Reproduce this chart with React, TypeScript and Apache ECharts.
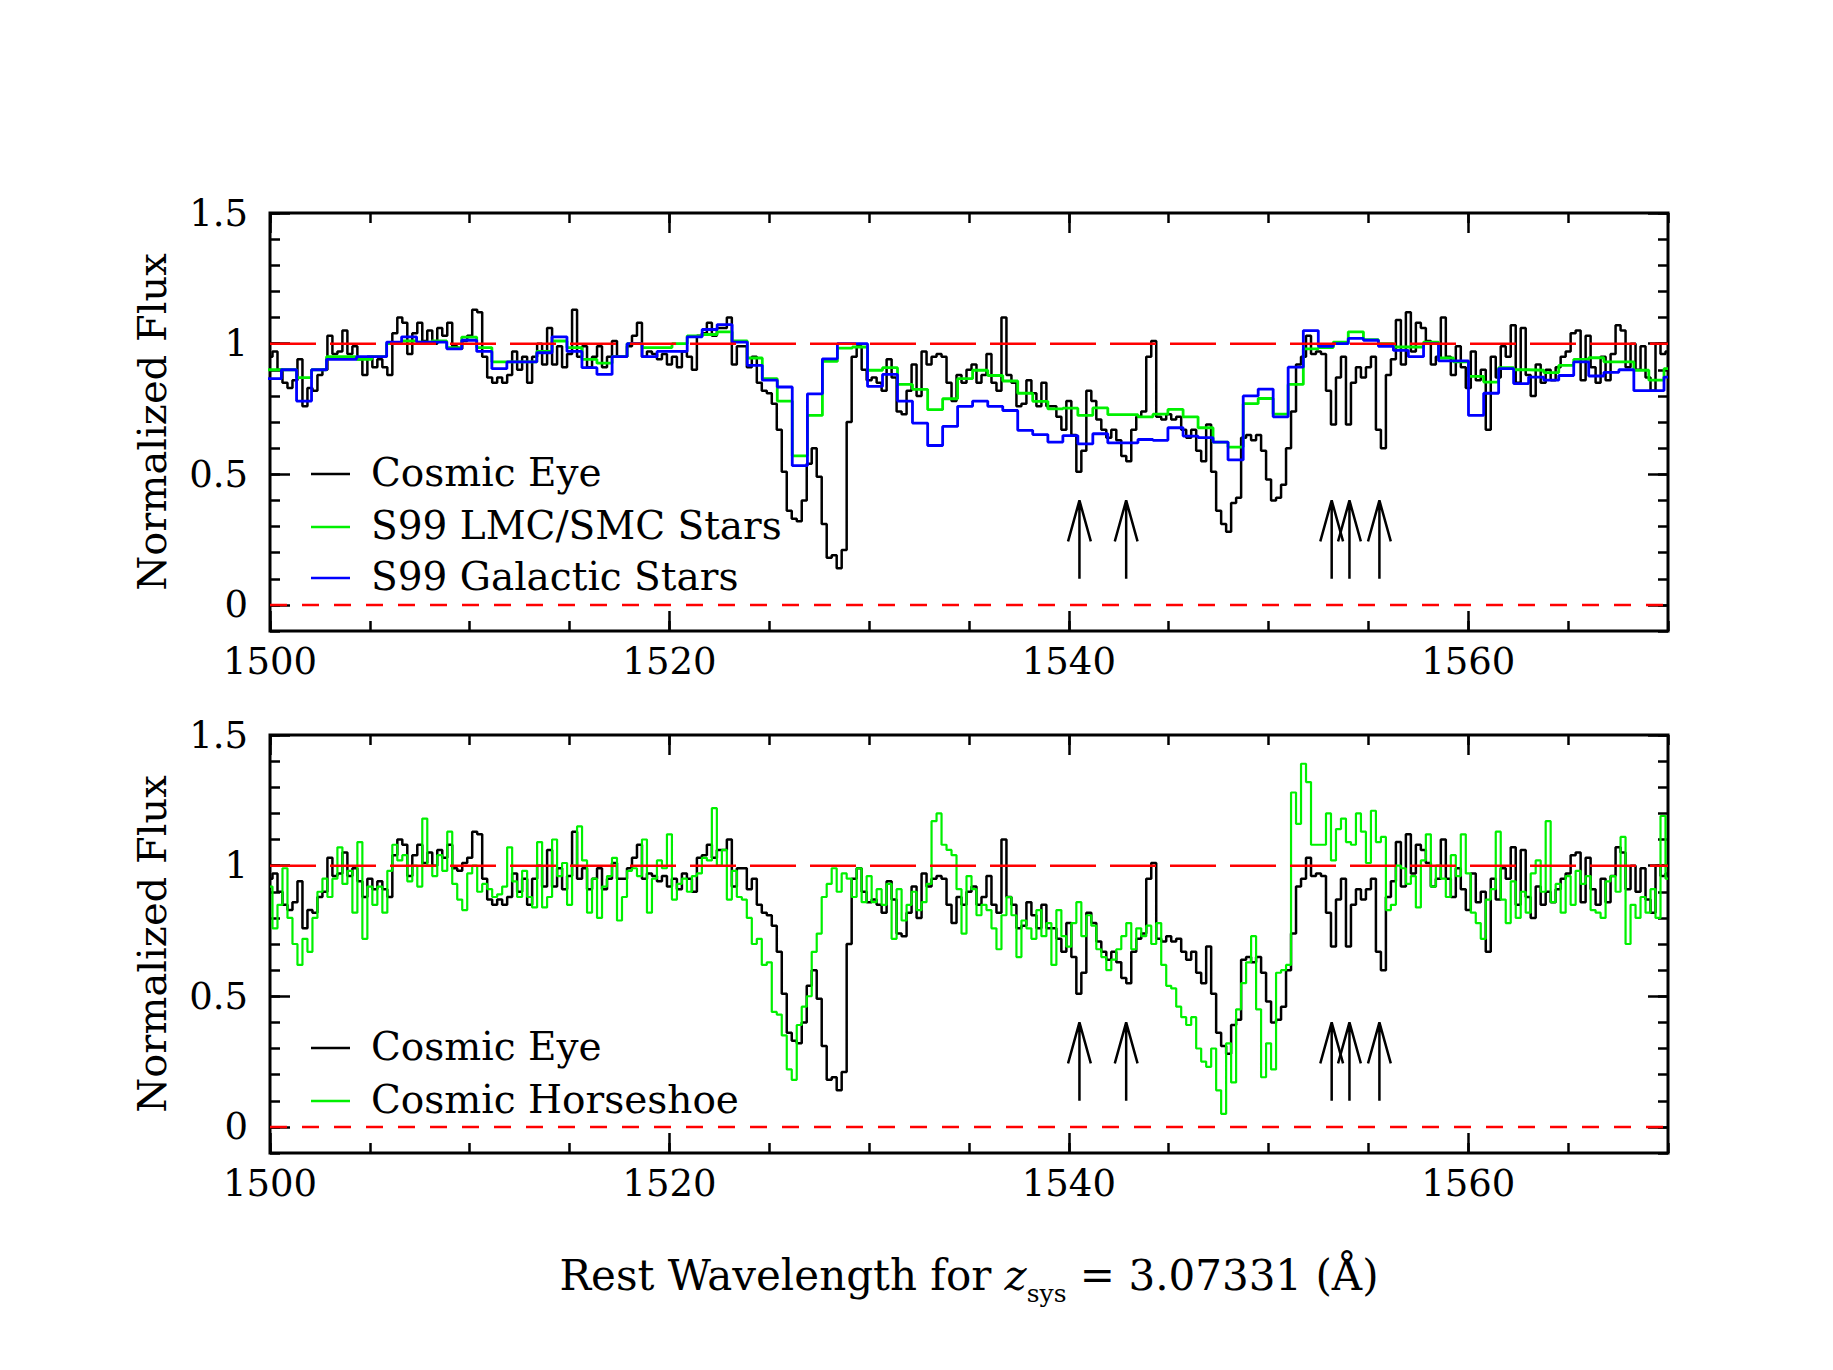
import React, { useEffect, useRef } from "react";
import * as echarts from "echarts";

// ---------- DATA ----------
const WL_START = 1500;
const WL_STEP = 0.25;

// Cosmic Eye normalized flux, sampled every 0.25 Å from 1500 to 1570
const cosmicEyeFlux = [
  0.95, 0.97, 0.90, 0.85, // 1500
  0.83, 0.86, 0.94, 0.76, // 1501
  0.83, 0.82, 0.88, 0.90, // 1502
  1.03, 0.96, 0.97, 1.05, // 1503
  0.96, 0.99, 0.94, 0.88, // 1504
  0.95, 0.91, 0.94, 0.91, // 1505
  0.88, 1.04, 1.10, 1.08, // 1506
  0.96, 1.04, 1.08, 1.01, // 1507
  1.05, 1.00, 1.06, 1.03, // 1508
  1.08, 0.99, 0.98, 1.01, // 1509
  1.03, 1.13, 1.12, 0.95, // 1510
  0.87, 0.85, 0.87, 0.85, // 1511
  0.88, 0.97, 0.90, 0.95, // 1512
  0.85, 0.95, 1.00, 0.92, // 1513
  1.06, 0.92, 0.99, 0.91, // 1514
  0.96, 1.13, 0.95, 0.99, // 1515
  0.91, 0.95, 0.99, 0.91, // 1516
  0.95, 1.01, 0.95, 0.95, // 1517
  0.99, 1.03, 1.08, 0.95, // 1518
  0.97, 0.96, 0.94, 0.96, // 1519
  0.92, 0.95, 0.91, 0.97, // 1520
  0.95, 0.90, 1.03, 1.04, // 1521
  1.08, 1.03, 1.06, 1.06, // 1522
  1.10, 0.92, 0.99, 0.99, // 1523
  0.91, 0.95, 0.85, 0.82, // 1524
  0.81, 0.77, 0.67, 0.51, // 1525
  0.36, 0.33, 0.32, 0.40, // 1526
  0.54, 0.60, 0.49, 0.31, // 1527
  0.18, 0.19, 0.14, 0.21, // 1528
  0.70, 0.95, 0.99, 0.90, // 1529
  0.86, 0.87, 0.85, 0.82, // 1530
  0.94, 0.87, 0.74, 0.73, // 1531
  0.82, 0.92, 0.80, 0.97, // 1532
  0.92, 0.95, 0.96, 0.95, // 1533
  0.85, 0.78, 0.88, 0.85, // 1534
  0.90, 0.92, 0.85, 0.88, // 1535
  0.96, 0.85, 0.82, 1.10, // 1536
  0.88, 0.85, 0.76, 0.77, // 1537
  0.86, 0.81, 0.76, 0.85, // 1538
  0.76, 0.76, 0.72, 0.67, // 1539
  0.78, 0.65, 0.51, 0.59, // 1540
  0.82, 0.78, 0.71, 0.67, // 1541
  0.64, 0.67, 0.63, 0.57, // 1542
  0.55, 0.67, 0.72, 0.74, // 1543
  0.95, 1.01, 0.72, 0.71, // 1544
  0.73, 0.71, 0.72, 0.67, // 1545
  0.64, 0.67, 0.59, 0.55, // 1546
  0.69, 0.51, 0.36, 0.31, // 1547
  0.28, 0.39, 0.41, 0.64, // 1548
  0.65, 0.63, 0.65, 0.59, // 1549
  0.48, 0.40, 0.41, 0.46, // 1550
  0.60, 0.74, 0.92, 0.95, // 1551
  1.03, 0.96, 0.97, 0.96, // 1552
  0.82, 0.69, 0.87, 0.95, // 1553
  0.69, 0.85, 0.91, 0.87, // 1554
  0.91, 0.95, 0.67, 0.60, // 1555
  0.88, 0.94, 1.09, 0.92, // 1556
  1.12, 0.97, 1.08, 1.06, // 1557
  1.01, 0.92, 0.95, 1.10, // 1558
  0.95, 0.88, 0.99, 0.91, // 1559
  0.83, 0.97, 0.86, 0.90, // 1560
  0.67, 0.95, 0.87, 0.99, // 1561
  0.95, 1.07, 0.85, 1.06, // 1562
  0.88, 0.80, 0.92, 0.85, // 1563
  0.90, 0.86, 0.91, 0.95, // 1564
  0.97, 1.04, 1.05, 0.86, // 1565
  1.03, 0.91, 0.85, 0.95, // 1566
  0.86, 0.96, 1.07, 1.05, // 1567
  0.91, 1.00, 0.90, 0.99, // 1568
  0.87, 0.82, 1.00, 0.96, // 1569
  0.97, // 1570
];

// Cosmic Horseshoe normalized flux, same sampling
const horseshoeFlux = [
  0.92, 0.76, 0.85, 0.99, // 1500
  0.80, 0.70, 0.62, 0.72, // 1501
  0.67, 0.80, 0.90, 0.95, // 1502
  0.88, 0.95, 1.07, 0.93, // 1503
  0.98, 0.82, 1.09, 0.72, // 1504
  0.92, 0.85, 0.92, 0.82, // 1505
  0.98, 1.08, 1.02, 1.04, // 1506
  0.94, 1.00, 0.92, 1.18, // 1507
  1.00, 0.96, 1.04, 0.98, // 1508
  1.13, 0.93, 0.87, 0.83, // 1509
  0.97, 1.00, 0.90, 0.93, // 1510
  0.91, 0.88, 0.89, 0.92, // 1511
  1.07, 0.94, 0.88, 0.98, // 1512
  0.88, 0.84, 1.09, 0.84, // 1513
  0.88, 1.10, 0.96, 1.01, // 1514
  0.85, 1.00, 1.15, 1.02, // 1515
  0.82, 0.95, 0.80, 0.92, // 1516
  0.96, 1.03, 0.79, 0.88, // 1517
  0.98, 0.99, 0.96, 1.10, // 1518
  0.82, 0.95, 1.02, 0.99, // 1519
  1.12, 0.87, 0.93, 0.95, // 1520
  0.90, 0.96, 0.97, 1.03, // 1521
  1.02, 1.22, 1.00, 1.06, // 1522
  0.87, 0.98, 0.88, 0.87, // 1523
  0.80, 0.70, 0.72, 0.62, // 1524
  0.63, 0.44, 0.43, 0.35, // 1525
  0.22, 0.18, 0.39, 0.46, // 1526
  0.50, 0.67, 0.74, 0.88, // 1527
  0.93, 0.99, 0.90, 0.97, // 1528
  0.95, 0.88, 0.99, 0.86, // 1529
  0.96, 0.86, 0.91, 0.85, // 1530
  0.93, 0.72, 0.91, 0.79, // 1531
  0.85, 0.90, 0.83, 0.86, // 1532
  0.93, 1.17, 1.20, 1.08, // 1533
  1.06, 1.04, 0.91, 0.74, // 1534
  0.96, 0.91, 0.81, 0.85, // 1535
  0.83, 0.76, 0.68, 0.81, // 1536
  0.88, 0.81, 0.65, 0.79, // 1537
  0.76, 0.72, 0.83, 0.73, // 1538
  0.78, 0.62, 0.83, 0.73, // 1539
  0.69, 0.78, 0.86, 0.73, // 1540
  0.81, 0.77, 0.68, 0.65, // 1541
  0.60, 0.64, 0.68, 0.73, // 1542
  0.78, 0.68, 0.76, 0.73, // 1543
  0.77, 0.70, 0.78, 0.62, // 1544
  0.54, 0.53, 0.46, 0.42, // 1545
  0.39, 0.42, 0.30, 0.25, // 1546
  0.23, 0.30, 0.14, 0.05, // 1547
  0.32, 0.17, 0.45, 0.55, // 1548
  0.63, 0.73, 0.45, 0.19, // 1549
  0.32, 0.22, 0.59, 0.60, // 1550
  0.62, 1.28, 1.16, 1.39, // 1551
  1.32, 1.08, 1.08, 1.08, // 1552
  1.20, 1.02, 1.14, 1.18, // 1553
  1.09, 1.08, 1.20, 1.13, // 1554
  1.01, 1.21, 1.09, 1.11, // 1555
  0.83, 0.85, 1.00, 0.99, // 1556
  0.93, 0.96, 0.84, 1.02, // 1557
  1.12, 0.92, 1.00, 0.95, // 1558
  0.88, 1.04, 0.96, 1.12, // 1559
  0.97, 0.82, 0.78, 0.72, // 1560
  0.87, 0.91, 1.13, 0.87, // 1561
  0.78, 0.94, 0.80, 0.90, // 1562
  0.82, 0.97, 1.02, 0.90, // 1563
  1.17, 0.86, 0.93, 0.82, // 1564
  0.96, 0.85, 0.98, 0.93, // 1565
  0.96, 0.83, 0.82, 0.80, // 1566
  0.94, 0.96, 0.90, 1.11, // 1567
  0.70, 0.85, 0.80, 0.88, // 1568
  0.82, 0.91, 0.80, 1.19, // 1569
  0.95, // 1570
];

// Starburst99 model bins (left edges, Å)
const modelBinEdges = [
  1499.82, 1500.57, 1501.33, 1502.08, 1502.83, 1503.58, 1504.33, 1505.09, 1505.84, 1506.59,
  1507.34, 1508.10, 1508.85, 1509.60, 1510.35, 1511.11, 1511.86, 1512.61, 1513.36, 1514.12,
  1514.87, 1515.62, 1516.37, 1517.13, 1517.88, 1518.63, 1519.38, 1520.13, 1520.89, 1521.64,
  1522.39, 1523.14, 1523.90, 1524.65, 1525.40, 1526.15, 1526.91, 1527.66, 1528.41, 1529.16,
  1529.92, 1530.67, 1531.42, 1532.17, 1532.93, 1533.68, 1534.43, 1535.18, 1535.94, 1536.69,
  1537.44, 1538.19, 1538.95, 1539.70, 1540.45, 1541.20, 1541.95, 1542.71, 1543.46, 1544.21,
  1544.96, 1545.72, 1546.47, 1547.22, 1547.97, 1548.73, 1549.48, 1550.23, 1550.98, 1551.74,
  1552.49, 1553.24, 1553.99, 1554.75, 1555.50, 1556.25, 1557.00, 1557.76, 1558.51, 1559.26,
  1560.01, 1560.77, 1561.52, 1562.27, 1563.02, 1563.78, 1564.53, 1565.28, 1566.03, 1566.79,
  1567.54, 1568.29, 1569.04, 1569.80,
];

const s99LmcSmcFlux = [
  0.90, 0.90, 0.87, 0.90, 0.95, 0.95, 0.94, 0.95, 1.0, 1.01,
  1.006, 1.01, 0.985, 1.025, 0.985, 0.93, 0.93, 0.93, 0.97, 1.01,
  0.985, 0.94, 0.925, 0.95, 1.0, 0.985, 0.985, 1.0, 1.03, 1.035,
  1.045, 1.01, 0.945, 0.866, 0.78, 0.57, 0.725, 0.932, 0.983, 0.987,
  0.898, 0.908, 0.844, 0.825, 0.747, 0.789, 0.866, 0.898, 0.878, 0.857,
  0.81, 0.779, 0.75, 0.753, 0.725, 0.754, 0.728, 0.728, 0.72, 0.73,
  0.748, 0.72, 0.678, 0.623, 0.604, 0.77, 0.79, 0.73, 0.844, 0.98,
  0.985, 1.006, 1.045, 1.015, 1.0, 0.987, 0.987, 1.006, 0.945, 0.93,
  0.875, 0.853, 0.908, 0.9, 0.898, 0.889, 0.917, 0.94, 0.946, 0.93,
  0.93, 0.898, 0.86, 0.904,
];

const s99GalacticFlux = [
  0.866, 0.90, 0.78, 0.90, 0.94, 0.94, 0.95, 0.95, 1.006, 1.026,
  1.006, 1.006, 0.98, 1.013, 0.97, 0.904, 0.93, 0.93, 0.965, 1.026,
  0.97, 0.908, 0.882, 0.95, 1.0, 0.95, 0.97, 0.97, 1.026, 1.054,
  1.073, 1.006, 0.917, 0.86, 0.834, 0.533, 0.808, 0.942, 1.0, 1.0,
  0.836, 0.882, 0.78, 0.696, 0.61, 0.683, 0.76, 0.78, 0.76, 0.744,
  0.668, 0.652, 0.623, 0.648, 0.616, 0.655, 0.62, 0.62, 0.633, 0.63,
  0.678, 0.646, 0.64, 0.623, 0.555, 0.80, 0.826, 0.72, 0.91, 1.05,
  0.99, 1.0, 1.02, 1.013, 0.99, 0.974, 0.95, 1.0, 0.934, 0.934,
  0.725, 0.81, 0.904, 0.847, 0.872, 0.86, 0.878, 0.93, 0.876, 0.89,
  0.90, 0.82, 0.82, 0.872,
];

// Line markers (arrows)
const arrowWavelengths = [1540.53, 1542.87, 1553.16, 1554.05, 1555.55];
const arrowBase = 0.10;
const arrowTip = 0.40;
const arrowWingLevel = 0.243;
const arrowHalfWidth = 0.57;

const xRange = [1500, 1570];
const yRange = [-0.1, 1.5];
const xMajorTicks = [1500, 1520, 1540, 1560];
const yMajorTicks = [0, 0.5, 1, 1.5];

// ---------- STYLE ----------
const FONT = "'DejaVu Serif', serif";
const BLACK = "#000000";
const GREEN = "#00f000";
const BLUE = "#0000ff";
const RED = "#ff0000";

const GRIDS = [
  { left: 270, top: 213, width: 1398, height: 418 },
  { left: 270, top: 735, width: 1398, height: 418 },
];

const tickLine = { color: BLACK, width: 2.5 };
const noAxisLine = { show: false, onZero: false };

function makeXAxes(gi: number) {
  const base = {
    type: "value",
    gridIndex: gi,
    min: xRange[0],
    max: xRange[1],
    axisLine: noAxisLine,
    splitLine: { show: false },
  };
  return [
    {
      ...base,
      position: "bottom",
      axisTick: { show: true, inside: true, length: 20, customValues: xMajorTicks, lineStyle: tickLine },
      axisLabel: {
        show: true,
        customValues: xMajorTicks,
        formatter: (v: number) => String(v),
        fontSize: 37,
        fontFamily: FONT,
        color: BLACK,
        margin: 12,
      },
    },
    {
      ...base,
      position: "bottom",
      interval: 5,
      axisTick: { show: true, inside: true, length: 10, lineStyle: tickLine },
      axisLabel: { show: false },
    },
    {
      ...base,
      position: "top",
      axisTick: { show: true, inside: true, length: 20, customValues: xMajorTicks, lineStyle: tickLine },
      axisLabel: { show: false },
    },
    {
      ...base,
      position: "top",
      interval: 5,
      axisTick: { show: true, inside: true, length: 10, lineStyle: tickLine },
      axisLabel: { show: false },
    },
  ];
}

function makeYAxes(gi: number) {
  const base = {
    type: "value",
    gridIndex: gi,
    min: yRange[0],
    max: yRange[1],
    axisLine: noAxisLine,
    splitLine: { show: false },
  };
  return [
    {
      ...base,
      position: "left",
      axisTick: { show: true, inside: true, length: 20, customValues: yMajorTicks, lineStyle: tickLine },
      axisLabel: {
        show: true,
        customValues: yMajorTicks,
        formatter: (v: number) => String(v),
        fontSize: 37,
        fontFamily: FONT,
        color: BLACK,
        margin: 22,
      },
    },
    {
      ...base,
      position: "left",
      interval: 0.1,
      axisTick: { show: true, inside: true, length: 10, lineStyle: tickLine },
      axisLabel: { show: false },
    },
    {
      ...base,
      position: "right",
      axisTick: { show: true, inside: true, length: 20, customValues: yMajorTicks, lineStyle: tickLine },
      axisLabel: { show: false },
    },
    {
      ...base,
      position: "right",
      interval: 0.1,
      axisTick: { show: true, inside: true, length: 10, lineStyle: tickLine },
      axisLabel: { show: false },
    },
  ];
}

function spectrumData(flux: number[]) {
  return flux.map((f, i) => [WL_START + i * WL_STEP, f]);
}

function modelData(flux: number[]) {
  const pts = modelBinEdges.map((x, i) => [x, flux[i]]);
  pts.push([xRange[1], flux[flux.length - 1]]);
  return pts;
}

function lineSeries(gi: number, data: number[][], color: string, width: number, extra: any = {}) {
  return {
    type: "line",
    xAxisIndex: gi * 4,
    yAxisIndex: gi * 4,
    data,
    showSymbol: false,
    symbol: "none",
    silent: true,
    clip: true,
    lineStyle: { color, width, ...(extra.lineStyle || {}) },
    ...(extra.step ? { step: extra.step } : {}),
  };
}

function arrowSeries(gi: number) {
  return arrowWavelengths.map((x) =>
    lineSeries(
      gi,
      [
        [x, arrowBase],
        [x, arrowTip],
        [x - arrowHalfWidth, arrowWingLevel],
        [x, arrowTip],
        [x + arrowHalfWidth, arrowWingLevel],
      ],
      BLACK,
      2.5
    )
  );
}

function refLines(gi: number) {
  return [
    lineSeries(gi, [[xRange[0], 1], [xRange[1], 1]], RED, 2.5, { lineStyle: { type: [46, 14] } }),
    lineSeries(gi, [[xRange[0], 0], [xRange[1], 0]], RED, 2.5, { lineStyle: { type: [17, 15] } }),
  ];
}

function legendItems(entries: { label: string; color: string; y: number }[]) {
  const out: any[] = [];
  entries.forEach((e) => {
    out.push({
      type: "line",
      shape: { x1: 311, y1: e.y, x2: 350, y2: e.y },
      style: { stroke: e.color, lineWidth: 2.5 },
    });
    out.push({
      type: "text",
      x: 371,
      y: e.y - 2,
      style: {
        text: e.label,
        fontSize: 39,
        fontFamily: FONT,
        fill: BLACK,
        align: "left",
        verticalAlign: "middle",
      },
    });
  });
  return out;
}

function buildOption() {
  const series: any[] = [
    // top panel
    lineSeries(0, spectrumData(cosmicEyeFlux), BLACK, 2.5, { step: "middle" }),
    lineSeries(0, modelData(s99LmcSmcFlux), GREEN, 2.8, { step: "end" }),
    lineSeries(0, modelData(s99GalacticFlux), BLUE, 2.8, { step: "end" }),
    ...arrowSeries(0),
    ...refLines(0),
    // bottom panel
    lineSeries(1, spectrumData(cosmicEyeFlux), BLACK, 2.5, { step: "middle" }),
    lineSeries(1, spectrumData(horseshoeFlux), GREEN, 2.2, { step: "middle" }),
    ...arrowSeries(1),
    ...refLines(1),
  ];

  const yTitle = (y: number) => ({
    type: "text",
    x: 152,
    y,
    rotation: Math.PI / 2,
    style: {
      text: "Normalized Flux",
      fontSize: 40,
      fontFamily: FONT,
      fill: BLACK,
      align: "center",
      verticalAlign: "middle",
    },
  });

  const graphic: any[] = [
    ...legendItems([
      { label: "Cosmic Eye", color: BLACK, y: 474 },
      { label: "S99 LMC/SMC Stars", color: GREEN, y: 527 },
      { label: "S99 Galactic Stars", color: BLUE, y: 578 },
    ]),
    ...legendItems([
      { label: "Cosmic Eye", color: BLACK, y: 1048 },
      { label: "Cosmic Horseshoe", color: GREEN, y: 1101 },
    ]),
    yTitle(422),
    yTitle(944),
    {
      type: "text",
      x: 969,
      y: 1275,
      style: {
        text: "{a|Rest Wavelength for }{z|z}{s|sys}{a| = 3.07331 (Å)}",
        align: "center",
        verticalAlign: "middle",
        fill: BLACK,
        rich: {
          a: { fontSize: 42, fontFamily: FONT, fill: BLACK, lineHeight: 62 },
          z: { fontSize: 42, fontFamily: FONT, fontStyle: "italic", fill: BLACK, lineHeight: 62 },
          s: { fontSize: 25, fontFamily: FONT, fill: BLACK, lineHeight: 31, verticalAlign: "bottom" },
        },
      },
    },
  ];

  return {
    animation: false,
    backgroundColor: "#ffffff",
    grid: GRIDS.map((g) => ({
      ...g,
      show: true,
      borderColor: BLACK,
      borderWidth: 3,
      backgroundColor: "transparent",
      containLabel: false,
    })),
    xAxis: [...makeXAxes(0), ...makeXAxes(1)],
    yAxis: [...makeYAxes(0), ...makeYAxes(1)],
    series,
    graphic,
  };
}

export default function App() {
  const ref = useRef<HTMLDivElement>(null);
  useEffect(() => {
    if (!ref.current) return;
    const chart = echarts.init(ref.current, null, { renderer: "svg" });
    chart.setOption(buildOption() as any);
    return () => chart.dispose();
  }, []);
  return (
    <div
      ref={ref}
      style={{ position: "absolute", left: 0, top: 0, width: 1833, height: 1370, background: "#fff" }}
    />
  );
}
